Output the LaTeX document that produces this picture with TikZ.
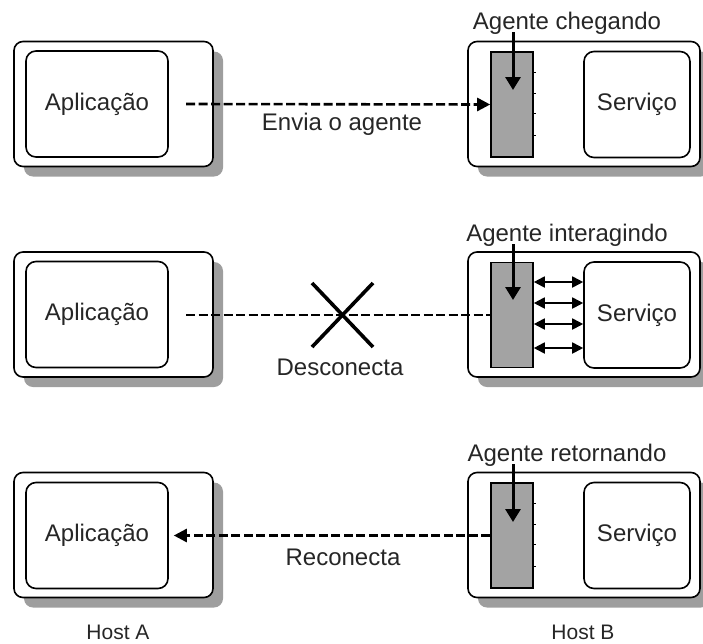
\documentclass[tikz,border=0pt]{standalone}
\usepackage{fontspec}
\setmainfont{Liberation Sans}
\usetikzlibrary{arrows.meta,shadows}
\definecolor{shade}{gray}{0.62}
\definecolor{agentfill}{gray}{0.64}
\begin{document}
\begin{tikzpicture}[x=1pt,y=-1pt,
  txt/.style={font=\fontsize{24}{28}\selectfont, inner sep=0pt, text=black!85},
  hosttxt/.style={font=\fontsize{21}{25}\selectfont, inner sep=0pt, text=black!85},
  hostbox/.style={draw, line width=1.6pt, rounded corners=9pt, fill=white, inner sep=0pt,
    minimum height=125pt,
    general shadow={fill=shade, shadow xshift=10pt, shadow yshift=-10pt}},
  hostA/.style={hostbox, minimum width=199pt},
  hostB/.style={hostbox, minimum width=232pt},
  innerbox/.style={draw, line width=1.6pt, rounded corners=10pt, fill=white, inner sep=0pt,
    minimum height=106pt, font=\fontsize{24}{28}\selectfont, text=black!85},
  appbox/.style={innerbox, minimum width=142pt},
  servbox/.style={innerbox, minimum width=106pt},
  agentbox/.style={draw, line width=1.6pt, fill=agentfill, minimum width=42pt, minimum height=105pt, inner sep=0pt},
  link/.style={line width=2.6pt, dash pattern=on 9pt off 3.5pt},
  tip/.style={-{Triangle[length=13pt,width=13pt]}},
  drop/.style={line width=3pt, -{Triangle[length=13pt,width=15pt]}},
  inter/.style={line width=1.8pt, {Triangle[length=11pt,width=11pt]}-{Triangle[length=11pt,width=11pt]}},
  portmark/.style={line width=1.2pt},
  cross/.style={line width=3.6pt}
]
\useasboundingbox (0,0) rectangle (703,643);
\clip (0,0) rectangle (703,643);

% ---------- Row 1 ----------
\node[hostA] (hA1) at (113.5,104) {};
\node[appbox] (app1) at (97,104) {Aplicação};
\node[hostB] (hB1) at (584,104) {};
\node[agentbox] (ag1) at (512,104.5) {};
\node[servbox] (sv1) at (637,104.5) {Serviço};
\node[txt] (lab1) at (567,23) {Agente chegando};
\coordinate (s1) at (186,104);
\draw[link,tip] (s1) -- (ag1.west);
\node[txt] (env) at (342,124) {Envia o agente};
\coordinate (d1) at (513,90);
\draw[drop] (lab1.south -| d1) ++(0,-2) -- (d1);
\foreach \dy in {-32,-11,9,31} \draw[portmark] ([yshift=-\dy pt]ag1.east) -- ++(2,0);

% ---------- Row 2 ----------
\node[hostA] (hA2) at (113.5,314.5) {};
\node[appbox] (app2) at (97,314.5) {Aplicação};
\node[hostB] (hB2) at (584,314.5) {};
\node[agentbox] (ag2) at (512,315) {};
\node[servbox] (sv2) at (637,315) {Serviço};
\node[txt] (lab2) at (567,235) {Agente interagindo};
\coordinate (s2) at (186,315);
\draw[link] (s2) -- (ag2.west);
\draw[cross] (312,283) -- (373,347);
\draw[cross] (373,283) -- (312,347);
\node[txt] (disc) at (340,367) {Desconecta};
\coordinate (d2) at (513,300);
\draw[drop] (lab2.south -| d2) ++(0,-2) -- (d2);
\foreach \dy in {-33,-12,9,33}
  \draw[inter] ([yshift=-\dy pt]ag2.east) -- ([yshift=-\dy pt]ag2.east -| sv2.west);

% ---------- Row 3 ----------
\node[hostA] (hA3) at (113.5,535) {};
\node[appbox] (app3) at (97,535.5) {Aplicação};
\node[hostB] (hB3) at (584,535) {};
\node[agentbox] (ag3) at (512,535.5) {};
\node[servbox] (sv3) at (637,535.5) {Serviço};
\node[txt] (lab3) at (567,455) {Agente retornando};
\draw[link,tip] (ag3.west) -- ([xshift=5pt]app3.east);
\node[txt] (rec) at (343,557) {Reconecta};
\coordinate (d3) at (513,522);
\draw[drop] (lab3.south -| d3) ++(0,-2) -- (d3);
\foreach \dy in {-32,-11,9,31} \draw[portmark] ([yshift=-\dy pt]ag3.east) -- ++(2,0);

% ---------- Host labels ----------
\node[hosttxt] (hostA) at (118,632) {Host A};
\node[hosttxt] (hostB) at (583,632) {Host B};
\end{tikzpicture}
\end{document}
